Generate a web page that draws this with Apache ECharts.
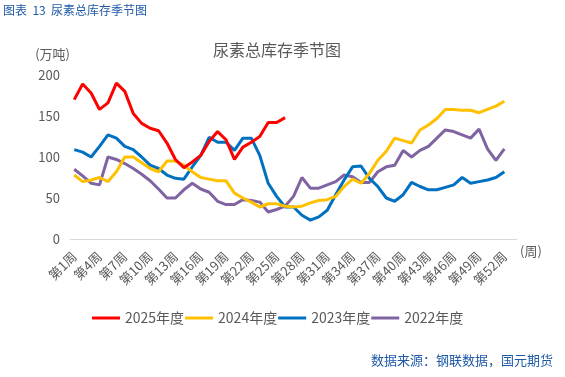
<!DOCTYPE html>
<html>
<head>
<meta charset="utf-8">
<script src="https://cdn.jsdelivr.net/npm/echarts@6/dist/echarts.min.js"></script>
<style>
  html, body { margin: 0; padding: 0; background: #fff; }
  #chart { width: 565px; height: 377px; }
</style>
</head>
<body>
<div id="chart"></div>
<script>
  // 周次 第1周..第53周
  const weeks = []
  for (let i = 1; i <= 53; i++) weeks.push('第' + i + '周')

  const seriesNames = ['2025年度', '2024年度', '2023年度', '2022年度']

  const y2025 = [170, 189, 178, 158, 166, 190, 180, 153, 141, 135, 132, 117, 97,
    87, 94, 102, 119, 131, 121, 97, 112, 118, 125, 142, 142, 148]

  const y2024 = [78, 70, 72, 75, 70, 82, 100, 100, 93, 86, 82, 95, 95,
    90, 82, 75, 73, 71, 71, 56, 50, 45, 39, 43, 43, 40,
    39, 40, 44, 47, 48, 52, 64, 73, 68, 80, 96, 107, 123,
    120, 117, 133, 139, 147, 158, 158, 157, 157, 154, 158, 162, 168]

  const y2023 = [109, 106, 100, 113, 127, 123, 113, 109, 100, 90, 86, 78, 74,
    73, 88, 102, 124, 118, 118, 108, 123, 123, 102, 68, 52, 39,
    39, 29, 23, 27, 35, 54, 72, 88, 89, 74, 64, 50, 46,
    54, 69, 64, 60, 60, 63, 66, 75, 68, 70, 72, 75, 82]

  const y2022 = [85, 77, 68, 66, 100, 97, 92, 86, 79, 71, 61, 50, 50,
    60, 68, 61, 57, 46, 42, 42, 48, 47, 45, 33, 36, 40,
    52, 75, 62, 62, 66, 70, 78, 76, 69, 69, 82, 88, 90,
    108, 100, 108, 113, 123, 133, 131, 127, 123, 134, 110, 96, 110]

  const colors = ['#FF0000', '#FFC000', '#0070C0', '#8064A2']
  const allData = [y2025, y2024, y2023, y2022]

  const font = '"Noto Sans CJK SC", sans-serif'
  const textGray = '#595959'

  let myChart = echarts.init(document.getElementById('chart'))

  let option = {
    animation: false,
    backgroundColor: '#fff',
    textStyle: { fontFamily: font },
    title: {
      text: '尿素总库存季节图',
      left: 208,
      top: 37,
      textStyle: { fontSize: 16, fontWeight: 'normal', color: textGray, fontFamily: font }
    },
    legend: {
      data: seriesNames,
      left: 92,
      top: 311,
      padding: 0,
      icon: 'rect',
      itemWidth: 28,
      itemHeight: 3,
      itemGap: 1,
      textStyle: { fontSize: 14, color: textGray, fontFamily: font }
    },
    grid: {
      left: 70,
      right: 48,
      top: 75,
      bottom: 138
    },
    xAxis: {
      type: 'category',
      data: weeks,
      boundaryGap: true,
      name: '(周)',
      nameLocation: 'end',
      nameGap: 3,
      nameTextStyle: { fontSize: 13, color: textGray, verticalAlign: 'top', padding: [6, 0, 0, 0] },
      axisLine: { lineStyle: { color: '#D9D9D9', width: 1 } },
      axisTick: { show: false },
      axisLabel: {
        interval: 2,
        rotate: 45,
        fontSize: 13,
        color: textGray,
        margin: 15
      },
      splitLine: { show: false }
    },
    yAxis: {
      type: 'value',
      min: 0,
      max: 200,
      interval: 50,
      name: '(万吨)',
      nameLocation: 'end',
      nameGap: 14,
      nameTextStyle: { fontSize: 13, color: textGray, align: 'right' },
      axisLine: { show: false },
      axisTick: { show: false },
      splitLine: { show: false },
      axisLabel: { fontSize: 13, color: textGray, margin: 10 }
    },
    graphic: [
      {
        type: 'text',
        left: 3,
        top: 4,
        style: { text: '图表  13  尿素总库存季节图', fontSize: 12, fill: '#1F5AA6', fontFamily: font }
      },
      {
        type: 'text',
        right: 12,
        top: 354,
        style: { text: '数据来源：钢联数据，国元期货', fontSize: 13, fill: '#1F5AA6', fontFamily: font }
      }
    ],
    series: []
  }

  seriesNames.forEach(function (name, idx) {
    option.series.push({
      name: name,
      type: 'line',
      data: allData[idx],
      symbol: 'none',
      smooth: false,
      z: 10 - idx,
      itemStyle: { color: colors[idx] },
      lineStyle: { color: colors[idx], width: 3 }
    })
  })

  myChart.setOption(option)
</script>
</body>
</html>
